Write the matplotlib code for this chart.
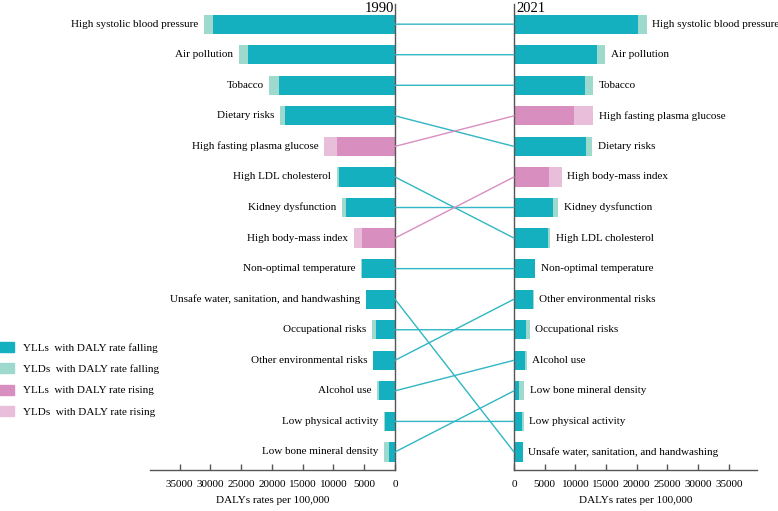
import matplotlib
matplotlib.use("Agg")
import matplotlib.pyplot as plt
from matplotlib.patches import Patch, ConnectionPatch

plt.rcParams['font.family'] = ['Liberation Serif', 'DejaVu Serif']

# 1990 ranking (top to bottom)
risks_1990 = ["High systolic blood pressure", "Air pollution", "Tobacco", "Dietary risks",
              "High fasting plasma glucose", "High LDL cholesterol", "Kidney dysfunction",
              "High body-mass index", "Non-optimal temperature",
              "Unsafe water, sanitation, and handwashing", "Occupational risks",
              "Other environmental risks", "Alcohol use", "Low physical activity",
              "Low bone mineral density"]
yll_1990 = [29600, 23900, 18800, 17800, 9500, 9100, 7900, 5400, 5400, 4700, 3100, 3500, 2650, 1700, 900]
yld_1990 = [1450, 1500, 1600, 900, 2000, 400, 700, 1300, 100, 50, 650, 30, 250, 150, 950]

# 2021 ranking (top to bottom)
risks_2021 = ["High systolic blood pressure", "Air pollution", "Tobacco",
              "High fasting plasma glucose", "Dietary risks", "High body-mass index",
              "Kidney dysfunction", "High LDL cholesterol", "Non-optimal temperature",
              "Other environmental risks", "Occupational risks", "Alcohol use",
              "Low bone mineral density", "Low physical activity",
              "Unsafe water, sanitation, and handwashing"]
yll_2021 = [20200, 13600, 11600, 9700, 11700, 5750, 6400, 5600, 3450, 3150, 1950, 1850, 870, 1250, 1400]
yld_2021 = [1400, 1300, 1300, 3200, 1050, 2050, 800, 300, 50, 30, 600, 250, 830, 350, 30]

rising = ["High fasting plasma glucose", "High body-mass index"]

C_YLL_F = "#15b0bf"
C_YLD_F = "#9ed9ce"
C_YLL_R = "#d98ec0"
C_YLD_R = "#e8bedb"
LINE_F = "#30b6c4"
LINE_R = "#d98ec0"
SPINE = "#555555"

fig = plt.figure(figsize=(7.78, 5.11), dpi=100)
ax1 = fig.add_axes([150/778, 1-470/511, (395-150)/778, (470-4)/511])
ax2 = fig.add_axes([514/778, 1-470/511, (757-514)/778, (470-4)/511])

bh = 0.63
def draw(ax, risks, yll, yld, side):
    ys = list(range(len(risks)))
    for y, r, a, b in zip(ys, risks, yll, yld):
        r_ = r in rising
        ax.barh(y, a, height=bh, color=C_YLL_R if r_ else C_YLL_F, linewidth=0)
        ax.barh(y, b, left=a, height=bh, color=C_YLD_R if r_ else C_YLD_F, linewidth=0)
        if side == 'left':
            ax.annotate(r, xy=(a + b, y), xytext=(-4, 0), textcoords='offset points',
                        ha='right', va='center', fontsize=8)
        else:
            ax.annotate(r, xy=(a + b, y), xytext=(4, 0), textcoords='offset points',
                        ha='left', va='center', fontsize=8)
    ax.set_ylim(len(risks) - 1 + 0.59, -0.66)
    ax.set_yticks([])
    ax.set_xticks(range(0, 35001, 5000))
    ax.tick_params(axis='x', direction='in', length=4, width=1, color=SPINE, labelsize=8, pad=7)
    for s in ['top']:
        ax.spines[s].set_visible(False)
    for s in ax.spines.values():
        s.set_color(SPINE)
        s.set_linewidth(1)
    ax.set_xlabel("DALYs rates per 100,000", fontsize=8, labelpad=5)

draw(ax1, risks_1990, yll_1990, yld_1990, 'left')
draw(ax2, risks_2021, yll_2021, yld_2021, 'right')
ax1.set_xlim(39800, 0)
ax2.set_xlim(0, 39600)
ax1.spines['left'].set_visible(False)
ax2.spines['right'].set_visible(False)

ax1.text(0.995, 1.004, "1990", transform=ax1.transAxes, ha='right', va='top', fontsize=10.5)
ax2.text(0.01, 1.004, "2021", transform=ax2.transAxes, ha='left', va='top', fontsize=10.5)

for i, r in enumerate(risks_1990):
    j = risks_2021.index(r)
    con = ConnectionPatch(xyA=(0, i), coordsA=ax1.transData, xyB=(0, j), coordsB=ax2.transData,
                          color=LINE_R if r in rising else LINE_F, lw=1)
    fig.add_artist(con)

handles = [Patch(color=C_YLL_F, label="YLLs  with DALY rate falling"),
           Patch(color=C_YLD_F, label="YLDs  with DALY rate falling"),
           Patch(color=C_YLL_R, label="YLLs  with DALY rate rising"),
           Patch(color=C_YLD_R, label="YLDs  with DALY rate rising")]
fig.legend(handles=handles, loc='upper left', bbox_to_anchor=(-0.003, 1-342/511), frameon=False,
           fontsize=8, handlelength=1.5, handleheight=1.0, handletextpad=0.8,
           labelspacing=0.95, borderpad=0, borderaxespad=0)

fig.savefig("out.png", dpi=100)
